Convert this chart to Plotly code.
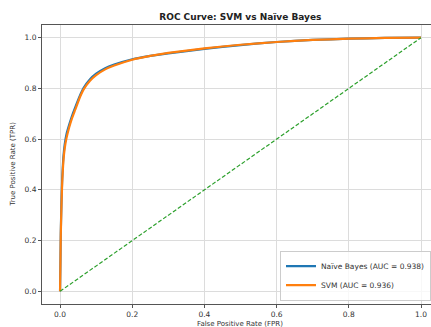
import plotly.graph_objects as go

fpr = [0, 0.001, 0.002, 0.004, 0.006, 0.009, 0.013, 0.018, 0.025, 0.033, 0.042, 0.055, 0.065,
       0.083, 0.1, 0.125, 0.15, 0.2, 0.25, 0.3, 0.4, 0.5, 0.6, 0.7, 0.8, 0.9, 1.0]
tpr_nb = [0, 0.11, 0.23, 0.355, 0.445, 0.525, 0.58, 0.62, 0.655, 0.691, 0.725, 0.771, 0.801,
          0.836, 0.858, 0.88, 0.894, 0.915, 0.928, 0.938, 0.956, 0.971, 0.983, 0.991, 0.996, 0.999, 1.0]
tpr_svm = [0, 0.10, 0.22, 0.34, 0.43, 0.51, 0.565, 0.605, 0.645, 0.682, 0.716, 0.765, 0.795,
           0.83, 0.852, 0.875, 0.89, 0.913, 0.928, 0.94, 0.958, 0.972, 0.983, 0.991, 0.996, 0.999, 1.0]
diag = [0, 1]

names = ["Naïve Bayes (AUC = 0.938)", "SVM (AUC = 0.936)"]
title = "ROC Curve: SVM vs Naïve Bayes"
xlabel = "False Positive Rate (FPR)"
ylabel = "True Positive Rate (TPR)"
ticks = [0, 0.2, 0.4, 0.6, 0.8, 1.0]
ticktext = ["0.0", "0.2", "0.4", "0.6", "0.8", "1.0"]

font = "DejaVu Sans"
fig = go.Figure()
fig.add_trace(go.Scatter(x=fpr, y=tpr_nb, mode="lines", name=names[0],
                         line=dict(color="#1f77b4", width=2.2, shape="spline", smoothing=0.4)))
fig.add_trace(go.Scatter(x=fpr, y=tpr_svm, mode="lines", name=names[1],
                         line=dict(color="#ff7f0e", width=2.2, shape="spline", smoothing=0.4)))
fig.add_trace(go.Scatter(x=diag, y=diag, mode="lines", showlegend=False,
                         line=dict(color="#2ca02c", width=1.2, dash="4px,2px")))

axis_common = dict(showgrid=True, gridcolor="#dcdcdc", gridwidth=1, zeroline=False,
                   showline=True, linecolor="#555", linewidth=1, mirror=True,
                   ticks="outside", ticklen=3, tickcolor="#555",
                   tickvals=ticks, ticktext=ticktext, automargin=False,
                   tickfont=dict(family=font, size=7.5, color="#333"))

fig.update_layout(
    width=431, height=327,
    margin=dict(l=42, r=0, t=25, b=23, autoexpand=False),
    paper_bgcolor="white", plot_bgcolor="white",
    title=dict(text="<b>" + title + "</b>", x=0.51, xanchor="center", xref="paper",
               y=1 - 17 / 327, yanchor="middle", font=dict(family=font, size=9, color="#222")),
    xaxis=dict(range=[-0.05, 1.0277], **axis_common),
    yaxis=dict(range=[-0.05, 1.05], **axis_common),
    showlegend=True,
    legend=dict(x=1.0, y=0.012, xanchor="right", yanchor="bottom",
                bgcolor="rgba(255,255,255,0.8)", bordercolor="#ccc", borderwidth=1,
                font=dict(family=font, size=7.5, color="#333"), tracegroupgap=0,
                itemwidth=30),
    annotations=[
        dict(text=xlabel, x=(240 - 42) / 389, y=-0.05, xref="paper", yref="paper",
             xanchor="center", yanchor="top", showarrow=False,
             font=dict(family=font, size=7, color="#333")),
        dict(text=ylabel, x=(12 - 42) / 389, y=0.5, xref="paper", yref="paper", textangle=-90,
             xanchor="center", yanchor="middle", showarrow=False,
             font=dict(family=font, size=7, color="#333")),
    ],
)

fig.write_html("out.html", config={"displayModeBar": False},
               post_script="document.body.style.margin='0';document.body.style.overflow='hidden';")
